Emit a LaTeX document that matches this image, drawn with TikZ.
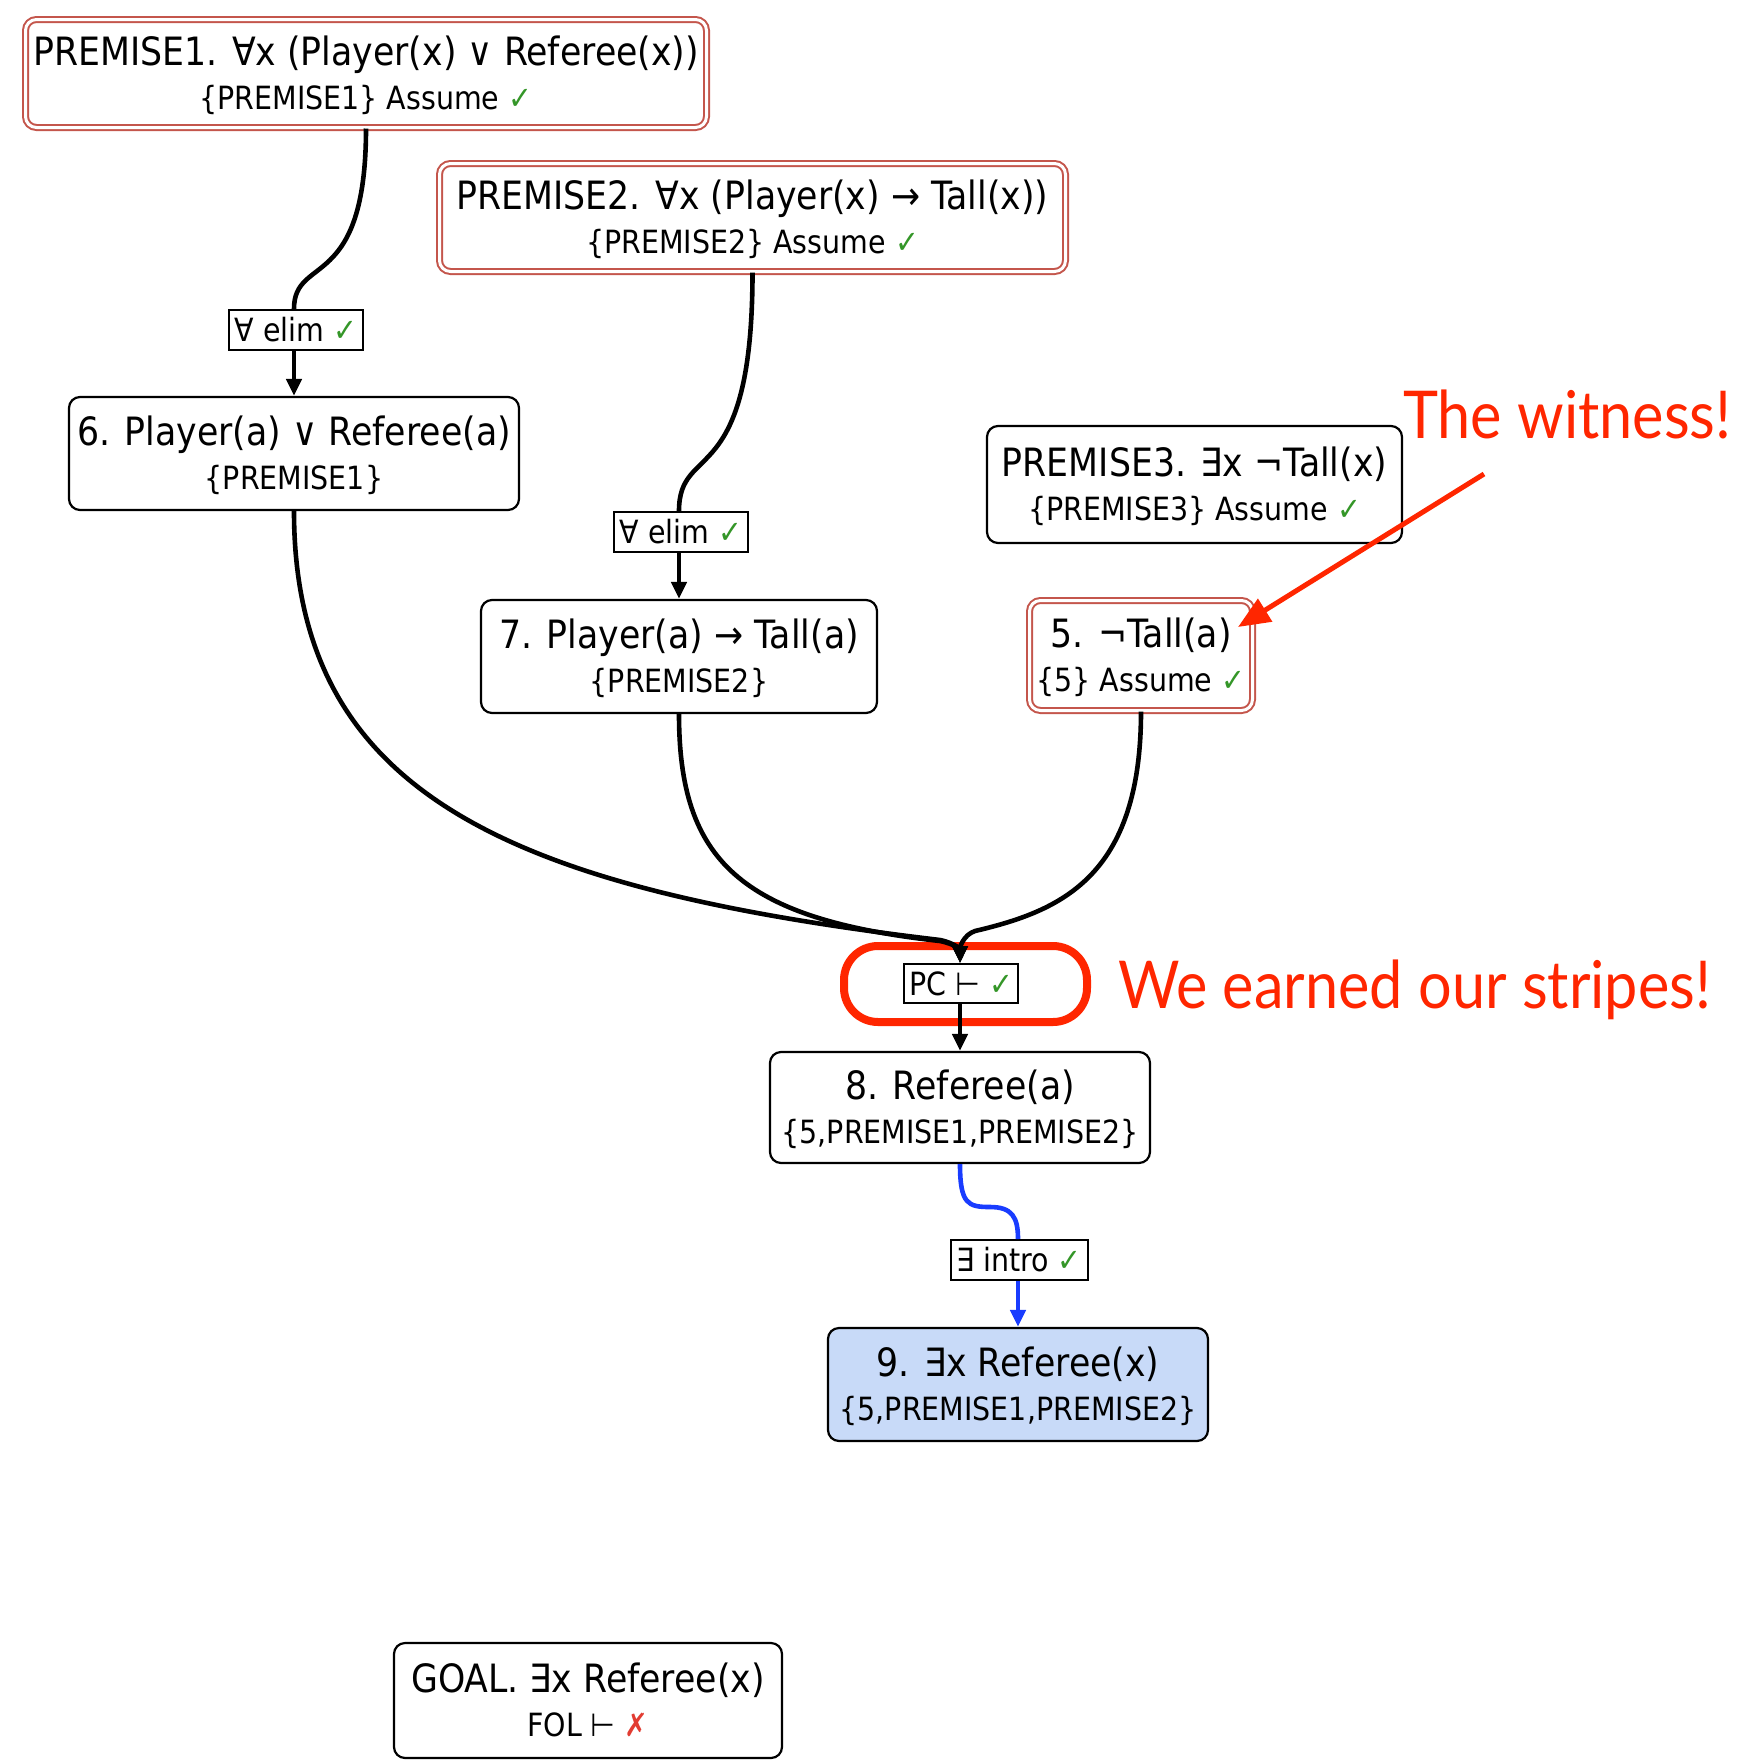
\documentclass[tikz,border=0pt]{standalone}
\usepackage{fontspec}
\setmainfont{DejaVu Sans}[FakeStretch=0.89]
\newfontfamily\annfont{Lato}[FakeStretch=0.9]
\usetikzlibrary{arrows.meta,calc}
\definecolor{dred}{RGB}{196,86,76}
\definecolor{ckgreen}{RGB}{52,150,40}
\definecolor{xred}{RGB}{226,60,50}
\definecolor{annred}{RGB}{255,38,0}
\definecolor{nodeblue}{RGB}{200,218,248}
\definecolor{edgeblue}{RGB}{25,60,255}
\newcommand{\ck}{\textcolor{ckgreen}{✓}}
\newcommand{\xx}{\textcolor{xred}{✗}}
\newcommand{\bigf}{\fontsize{39}{47}\selectfont}
\newcommand{\smf}{\fontsize{32}{38}\selectfont}
\newcommand{\annf}{\annfont\fontsize{66}{70}\selectfont}
\tikzset{
  box/.style={draw=black, line width=2.2pt, rounded corners=11pt, fill=white, inner sep=0pt},
  pbox/.style={draw=dred, line width=2pt, double=white, double distance=3pt, rounded corners=11pt, inner sep=0pt},
  goalbox/.style={box, fill=nodeblue},
  lab/.style={draw=black, line width=2pt, fill=white, inner sep=0pt, font=\smf},
  lone/.style={anchor=base, inner sep=0pt, font=\bigf},
  ltwo/.style={anchor=base, inner sep=0pt, font=\smf},
  edge/.style={line width=4.6pt, black},
  arr/.style={edge, -{Triangle[length=17pt,width=15pt]}},
  barr/.style={edge, edgeblue, -{Triangle[length=17pt,width=15pt]}},
  hilite/.style={draw=annred, line width=8pt, rounded corners=34pt, inner sep=0pt},
  anntext/.style={text=annred, font=\annf, inner sep=0pt, anchor=base west},
  annarrow/.style={draw=annred, line width=5pt, -{Triangle[length=32pt,width=26pt]}}
}
\newcommand{\proofnode}[8]{%
  \node[#6, minimum width=#4pt, minimum height=#5pt] (#1) at (#2,#3) {};
  \node[lone] (#1a) at ($(#1.center)+(0,-8)$) {#7};
  \node[ltwo] (#1b) at ($(#1.center)+(0,36)$) {#8};
}
\begin{document}
\begin{tikzpicture}[x=1pt,y=-1pt]
\useasboundingbox (0,0) rectangle (1750,1762);

% highlight behind
\node[hilite, minimum width=243pt, minimum height=76pt] (hl) at (965.5,984) {};

\proofnode{p1}{366}{73.5}{681}{108}{pbox}{PREMISE1. ∀x (Player(x) ∨ Referee(x))}{\{PREMISE1\} Assume \ck}
\proofnode{p2}{752.5}{217.5}{626}{108}{pbox}{PREMISE2. ∀x (Player(x) → Tall(x))}{\{PREMISE2\} Assume \ck}
\proofnode{n6}{294}{453.5}{450}{113}{box}{6. Player(a) ∨ Referee(a)}{\{PREMISE1\}}
\proofnode{p3}{1194.5}{484.5}{415}{117}{box}{PREMISE3. ∃x ¬Tall(x)}{\{PREMISE3\} Assume \ck}
\proofnode{n7}{679}{656.5}{396}{113}{box}{7. Player(a) → Tall(a)}{\{PREMISE2\}}
\proofnode{n5}{1141}{655.5}{223}{110}{pbox}{5. ¬Tall(a)}{\{5\} Assume \ck}
\proofnode{n8}{960}{1107.5}{380}{111}{box}{8. Referee(a)}{\{5,PREMISE1,PREMISE2\}}
\proofnode{n9}{1018}{1384.5}{380}{113}{goalbox}{9. ∃x Referee(x)}{\{5,PREMISE1,PREMISE2\}}
\proofnode{goal}{588}{1700.5}{388}{115}{box}{GOAL. ∃x Referee(x)}{FOL ⊢ \xx}

\node[lab, minimum width=134pt, minimum height=40pt] (e1) at (296,330) {∀ elim \ck};
\node[lab, minimum width=134pt, minimum height=40pt] (e2) at (681,532) {∀ elim \ck};
\node[lab, minimum width=114pt, minimum height=39pt] (pc) at (961,983.5) {PC ⊢ \ck};
\node[lab, minimum width=137pt, minimum height=40pt] (e3) at (1019,1260) {∃ intro \ck};

% connectors
\draw[edge] (p1.south) .. controls +(0,165) and +(0,-55) .. ($(e1.north)+(-2,0)$);
\draw[edge] (p2.south) .. controls +(0,220) and +(0,-70) .. ($(e2.north)+(-2,0)$);
\draw[arr] ($(e1.south)+(-2,0)$) -- (n6.north);
\draw[arr] ($(e2.south)+(-2,0)$) -- (n7.north);
\draw[arr] (n6.south) .. controls +(0,289) and +(-420,-50) .. ($(pc.north)+(-21,-23)$) .. controls +(15,3) and +(0,-13) .. ($(pc.north)+(-1,0)$);
\draw[arr] (n7.south) .. controls +(0,146) and +(-200,-22) .. ($(pc.north)+(-21,-22)$) .. controls +(15,3) and +(0,-13) .. ($(pc.north)+(-1,0)$);
\draw[arr] (n5.south) .. controls +(0,166) and +(85,-20) .. ($(pc.north)+(14,-32)$) .. controls +(-12,4) and +(0,-15) .. ($(pc.north)+(-1,0)$);
\draw[arr] ($(pc.south)+(-1,0)$) -- (n8.north);
\draw[edge, edgeblue] (n8.south) .. controls +(0,40) and +(-22,0) .. ($(e3.north)+(-29,-32)$) .. controls +(22,0) and +(0,-22) .. ($(e3.north)+(-1,0)$);
\draw[barr] ($(e3.south)+(-1,0)$) -- (n9.north);

% annotations
\node[anntext] (witness) at (1403,438) {The witness!};
\node[anntext] (stripes) at (1118,1008) {We earned our stripes!};
\coordinate (wstart) at (1484,474);
\coordinate (wtip) at (1238,627);
\draw[annarrow] (wstart) -- (wtip);
\end{tikzpicture}
\end{document}
